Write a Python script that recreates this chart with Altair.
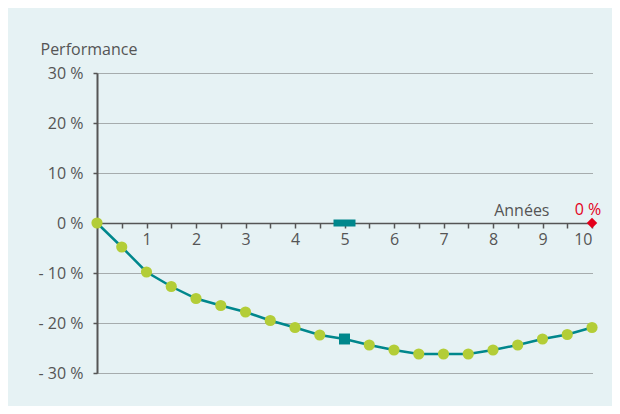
import altair as alt
import pandas as pd

years = [0, 0.5, 1, 1.5, 2, 2.5, 3, 3.5, 4, 4.5, 5, 5.5, 6, 6.5, 7, 7.5, 8, 8.5, 9, 9.5, 10]
perf = [0, -4.8, -9.8, -12.7, -15.1, -16.5, -17.8, -19.5, -20.9, -22.4, -23.2,
        -24.4, -25.4, -26.2, -26.2, -26.2, -25.4, -24.4, -23.2, -22.3, -20.9]
square_year = 5
end_label = "0 %"
y_ticks = [-30, -20, -10, 0, 10, 20, 30]
x_ticks = [0, 0.5, 1, 1.5, 2, 2.5, 3, 3.5, 4, 4.5, 5, 5.5, 6, 6.5, 7, 7.5, 8, 8.5, 9, 9.5, 10]

TEAL = "#00878c"
GREEN = "#b3cd37"
RED = "#e3001b"
GREY = "#555555"
FONT = "Open Sans"
FS = 16

df = pd.DataFrame({"x": years, "y": perf})
df_dots = df[df["x"] != square_year]
df_sq = df[df["x"] == square_year]
df_axis_mark = pd.DataFrame({"x": [square_year], "y": [0]})
df_end = pd.DataFrame({"x": [years[-1]], "y": [0], "t": [end_label]})

xenc = alt.X("x:Q", scale=alt.Scale(domain=[0, 10], nice=False, zero=False),
             axis=alt.Axis(values=x_ticks, orient="bottom", offset=-150,
                           labelExpr="datum.value % 1 == 0 && datum.value > 0 ? format(datum.value, 'd') : ''",
                           grid=False, tickSize=5, tickWidth=1.5, tickColor=GREY,
                           domainColor=GREY, domainWidth=1.5,
                           labelColor=GREY, labelFont=FONT, labelFontSize=FS, labelPadding=3,
                           title="Années", titleFont=FONT, titleFontSize=FS, titleFontWeight="normal",
                           titleColor=GREY, titleAlign="right", titleBaseline="alphabetic",
                           titleX=452, titleY=-8, titleAnchor="start"))
yenc = alt.Y("y:Q", scale=alt.Scale(domain=[-30, 30], nice=False, zero=False),
             axis=alt.Axis(values=y_ticks,
                           labelExpr="datum.value < 0 ? '- ' + abs(datum.value) + ' %' : datum.value + ' %'",
                           grid=True, gridColor="#666666", gridDash=[1, 1], gridWidth=1,
                           tickSize=4, tickColor=GREY, tickWidth=1.5,
                           domainColor=GREY, domainWidth=2,
                           labelColor=GREY, labelFont=FONT, labelFontSize=FS, labelPadding=10,
                           title="Performance", titleFont=FONT, titleFontSize=FS, titleFontWeight="normal",
                           titleColor=GREY, titleAngle=0, titleAlign="left", titleBaseline="alphabetic",
                           titleX=-57, titleY=-19, titleAnchor="start"))

line = alt.Chart(df).mark_line(color=TEAL, strokeWidth=2.5).encode(x=xenc, y=yenc)
dots = alt.Chart(df_dots).mark_point(shape="circle", filled=True, opacity=1, color=GREEN, size=125).encode(x=xenc, y=yenc)
sq = alt.Chart(df_sq).mark_point(shape="square", filled=True, opacity=1, color=TEAL, size=120).encode(x=xenc, y=yenc)
axmark = alt.Chart(df_axis_mark).mark_tick(orient="horizontal", size=22, thickness=7, color=TEAL, opacity=1).encode(x=xenc, y=yenc)
diamond = alt.Chart(df_end).mark_point(shape="diamond", filled=True, opacity=1, color=RED, size=110).encode(x=xenc, y=yenc)
endtxt = alt.Chart(df_end).mark_text(color=RED, font=FONT, fontSize=FS, dy=-8, baseline="alphabetic", align="center", dx=-4).encode(x=xenc, y=yenc, text="t:N")

chart = alt.layer(line, dots, sq, axmark, diamond, endtxt).properties(
    width=495, height=300,
    background="#e6f2f4",
    padding={"left": 89, "top": 65, "right": 20, "bottom": 33},
    autosize="none",
).configure_view(strokeOpacity=0)

chart.save("out.html", embed_options={"renderer": "svg", "actions": False})
